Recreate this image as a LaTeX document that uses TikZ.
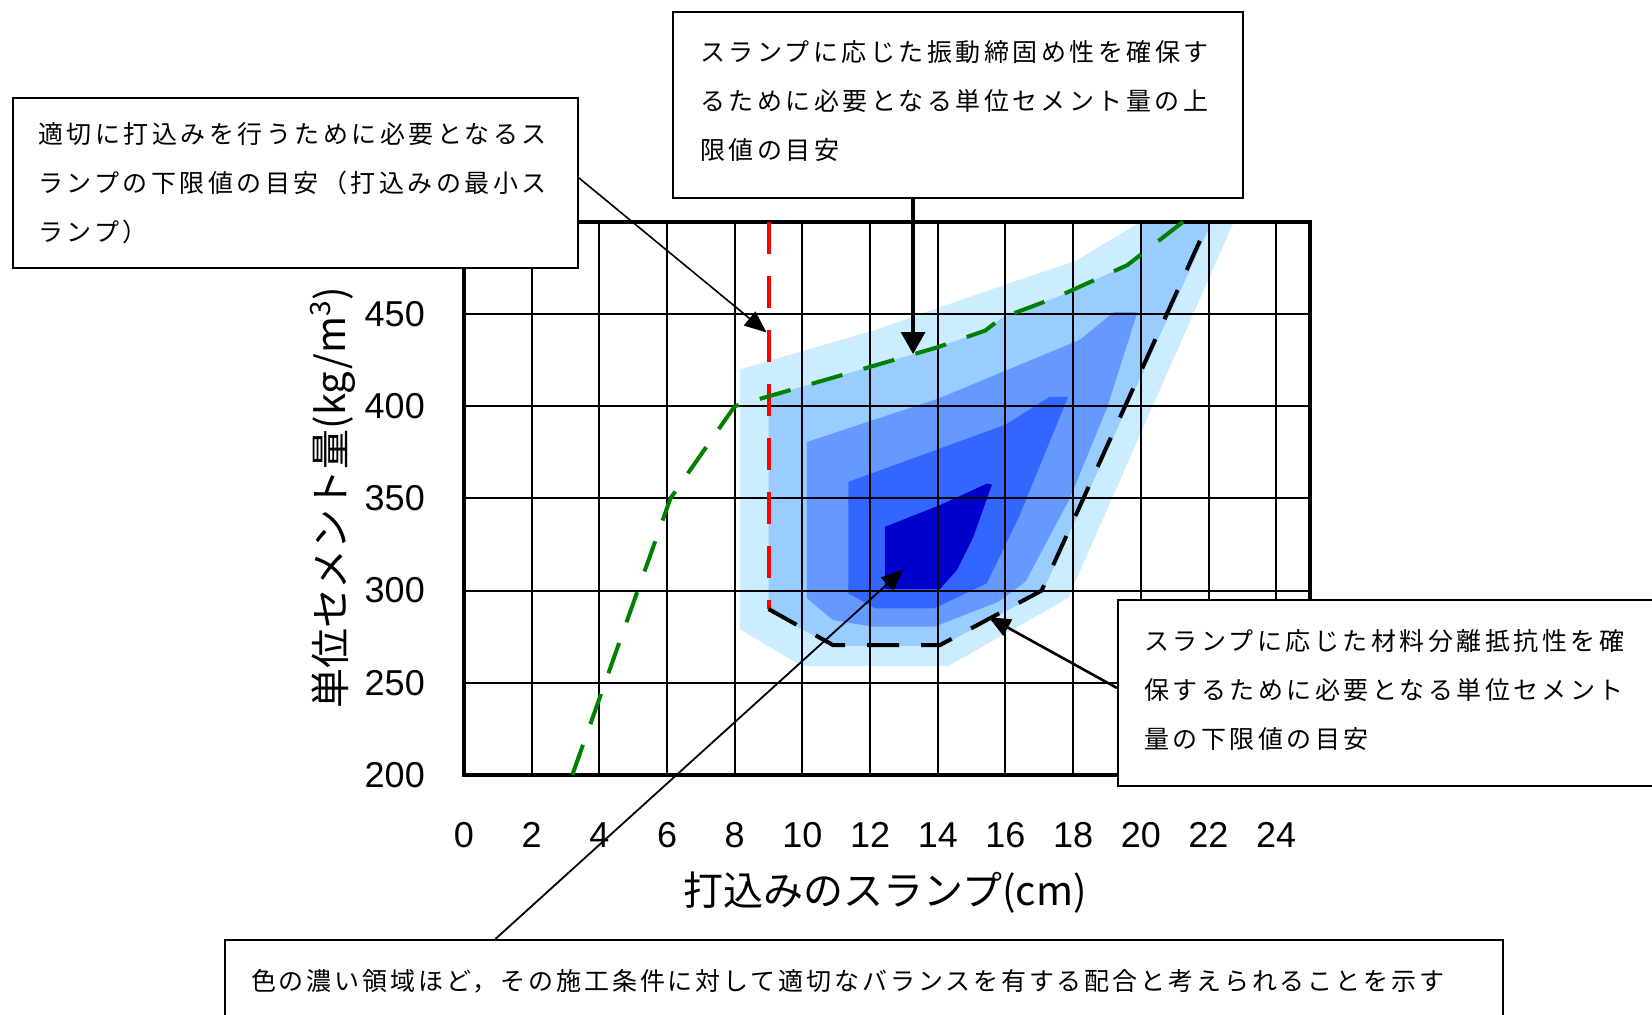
\documentclass[tikz,border=0pt]{standalone}
\usepackage{fontspec}
\setmainfont{Liberation Sans}
\newfontfamily\jp{Noto Sans CJK JP}
\newfontfamily\jpnote[LetterSpace=14]{Noto Sans CJK JP}
\newfontfamily\jpwide[LetterSpace=11.5]{Noto Sans CJK JP}
\usetikzlibrary{arrows.meta,calc}
\definecolor{B1}{RGB}{204,236,255}
\definecolor{B2}{RGB}{153,204,255}
\definecolor{B3}{RGB}{102,153,255}
\definecolor{B4}{RGB}{51,102,255}
\definecolor{B5}{RGB}{0,0,204}
\definecolor{G4}{RGB}{0,128,0}
\definecolor{R4}{RGB}{255,0,0}

\begin{document}
\begin{tikzpicture}[x=0.5pt, y=-0.5pt,
    note/.style={draw, line width=1pt, fill=white, anchor=north west, align=left,
                 inner xsep=12.7pt, inner ysep=0pt,
                 font={\jpnote\fontsize{12.5}{24.5}\selectfont}},
    pointer/.style={-{Triangle[length=11pt,width=9pt]}, line width=0.9pt},
    gridline/.style={line width=1pt},
    bound/.style={line width=2pt, dash pattern=on 16pt off 11pt},
    tick/.style={font=\fontsize{18}{18}\selectfont},
    axistitle/.style={font={\jp\fontsize{20}{20}\selectfont}}]
      \useasboundingbox (0,0) rectangle (1652,1015);
      \fill[white] (0,0) rectangle (1652,1015);
      \clip (0,0) rectangle (1652,1015);
      \begin{scope}[shift={(464,1143.8)}, x=16.92pt, y=0.922pt]
        \fill[B1] (8.15,279) -- (8.15,420) -- (12.1,441) -- (15.84,465) -- (18.1,479) -- (20,500)
                  -- (22.75,500) -- (17.85,296) -- (14.3,259) -- (10,259) -- cycle;
        \fill[B2] (9,289) -- (9,405.3) -- (14,432) -- (15.4,441) -- (15.9,448) -- (17.5,459)
                  -- (19.6,476.5) -- (20,481) -- (20,500) -- (22.1,500) -- (17.1,299.5)
                  -- (14.1,270) -- (10.9,270) -- cycle;
        \fill[B3] (10.13,296) -- (10.13,380.6) -- (14,404) -- (18.2,436) -- (19.2,451) -- (19.9,451)
                  -- (19,399) -- (17.9,350) -- (16.6,305) -- (15.8,294) -- (13.9,280.4)
                  -- (12.1,280.4) -- (10.9,284) -- cycle;
        \fill[B4] (11.36,298.5) -- (11.36,359) -- (16,390) -- (17.3,405) -- (17.85,405)
                  -- (16.4,340) -- (15.45,304) -- (13.9,290.4) -- (12.15,290.4) -- cycle;
        \fill[B5] (12.44,301) -- (12.44,334.6) -- (14.07,346.4) -- (15.45,358) -- (15.6,357.5)
                  -- (15.05,329) -- (14.56,311) -- (14.07,301) -- cycle;
        \foreach \x in {2,4,...,24} \draw[gridline] (\x,200) -- (\x,500);
        \foreach \y in {250,300,...,450} \draw[gridline] (0,\y) -- (25,\y);
        \draw[line width=2pt] (0,200) rectangle (25,500);
        \draw[bound, R4] (9,500) -- (9,290);
        \draw[bound, G4] (3.2,200) -- (6.1,350) -- (8,400) -- (14,432) -- (15.4,441) -- (15.9,448)
                         -- (17.5,459) -- (19.6,476.5) -- (21.25,500);
        \draw[bound] (9,290) -- (10.9,270.5) -- (14.07,270.5) -- (17.07,300) -- (22,500);
        \foreach \x in {0,2,...,24} \node[tick] (xt\x) at (\x,167.5) {\x};
        \foreach \y in {200,250,...,450} \node[tick, anchor=east] (yt\y) at (-0.95,\y) {\y};
        \node[axistitle] (xtitle) at (12.44,136) {打込みのスランプ(cm)};
        \node[axistitle, rotate=90] (ytitle) at (-3.89,350.5) {単位セメント量(kg/m\textsuperscript{3})};
        \coordinate (tipA) at (8.94,440);
        \coordinate (tipB) at (13.27,428.3);
        \coordinate (tipC) at (12.98,311.4);
        \coordinate (tipD) at (15.5,285.7);
      \end{scope}
      \node[note, text width=257.3pt, minimum height=85pt] (lbox) at (11.6,97)
        {適切に打込みを行うために必要となるス\\ランプの下限値の目安（打込みの最小ス\\ランプ）};
      \node[note, inner xsep=13.5pt, text width=258pt, minimum height=93pt] (tbox) at (672,11)
        {スランプに応じた振動締固め性を確保す\\るために必要となる単位セメント量の上\\限値の目安\\[-19.5pt]\mbox{}};
      \node[note, inner xsep=13pt, text width=245.5pt, minimum height=93pt] (rbox) at (1117,599)
        {スランプに応じた材料分離抵抗性を確\\保するために必要となる単位セメント\\量の下限値の目安\\[-20.5pt]\mbox{}};
      \node[note, inner xsep=13pt, text width=613pt, minimum height=41pt,
            font={\jpwide\fontsize{12.5}{24.5}\selectfont}] (bbox) at (224,939)
        {色の濃い領域ほど，その施工条件に対して適切なバランスを有する配合と考えられることを示す};
      \draw[pointer, line width=0.8pt] ([yshift=2.5pt]lbox.east) -- (tipA);
      \draw[pointer, line width=1.6pt, -{Triangle[length=11pt,width=12pt]}] (tbox.south -| tipB) -- (tipB);
      \draw[pointer] ($(bbox.north west)!0.212!(bbox.north east)$) -- (tipC);
      \draw[pointer, line width=1.3pt] ([yshift=2.5pt]rbox.west) -- (tipD);
    \end{tikzpicture}
\end{document}
